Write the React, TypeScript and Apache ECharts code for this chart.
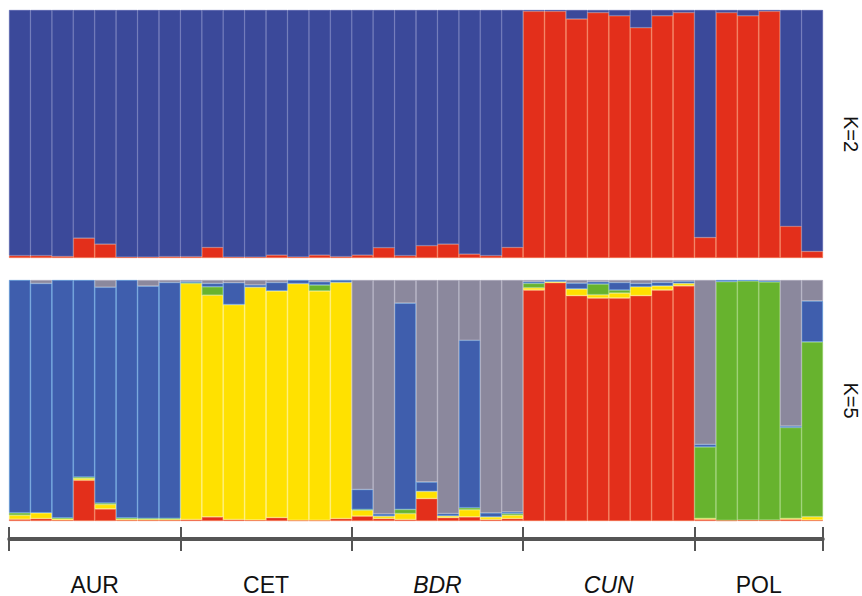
import React, { useEffect, useRef } from "react";
import * as echarts from "echarts";

// Populations and number of individuals per population
const populations = ["AUR", "CET", "BDR", "CUN", "POL"];
const popSizes = [8, 8, 8, 8, 6];
const italicPops = ["BDR", "CUN"];

// K=2: proportion of the red cluster per individual (blue = remainder)
const k2Red = [
  0.01, 0.01, 0.007, 0.08, 0.056, 0.004, 0.004, 0.006,
  0.006, 0.043, 0.004, 0.004, 0.012, 0.005, 0.012, 0.006,
  0.012, 0.042, 0.01, 0.05, 0.056, 0.016, 0.01, 0.043,
  0.995, 0.995, 0.964, 0.99, 0.977, 0.929, 0.977, 0.99,
  0.083, 0.99, 0.977, 0.995, 0.128, 0.027,
];

// K=5 cluster memberships per individual (bottom to top)
const k5Red = [
  0.007, 0.01, 0.004, 0.169, 0.05, 0.004, 0.004, 0.004,
  0.006, 0.017, 0.006, 0.004, 0.014, 0.003, 0.003, 0.01,
  0.02, 0.01, 0.006, 0.093, 0.014, 0.017, 0.006, 0.01,
  0.958, 0.989, 0.935, 0.925, 0.925, 0.935, 0.958, 0.976,
  0.007, 0.003, 0.004, 0.004, 0.007, 0.004,
];
const k5Yellow = [
  0.017, 0.024, 0.005, 0.008, 0.019, 0.004, 0.004, 0.004,
  0.98, 0.92, 0.892, 0.966, 0.941, 0.982, 0.952, 0.98,
  0.025, 0.01, 0.025, 0.03, 0.007, 0.03, 0.011, 0.014,
  0.01, 0.004, 0.028, 0.014, 0.021, 0.037, 0.018, 0.01,
  0.004, 0, 0, 0, 0.004, 0.014,
];
const k5Green = [
  0.01, 0, 0.004, 0.005, 0.005, 0.005, 0.003, 0.003,
  0.003, 0.035, 0, 0, 0, 0, 0.024, 0,
  0.003, 0, 0.017, 0, 0, 0.008, 0, 0.007,
  0.018, 0, 0, 0.044, 0.012, 0, 0, 0,
  0.296, 0.99, 0.992, 0.988, 0.377, 0.725,
];
const k5Blue = [
  0.966, 0.952, 0.987, 0.818, 0.896, 0.987, 0.964, 0.979,
  0.005, 0.014, 0.091, 0.01, 0.035, 0.015, 0.014, 0.01,
  0.083, 0.01, 0.856, 0.039, 0.01, 0.695, 0.017, 0.007,
  0.007, 0.007, 0.024, 0.01, 0.032, 0.014, 0.014, 0.009,
  0.011, 0.007, 0.004, 0.004, 0.006, 0.17,
];
const k5Gray = [
  0, 0.014, 0, 0, 0.03, 0, 0.025, 0.01,
  0.006, 0.014, 0.011, 0.02, 0.01, 0, 0.007, 0,
  0.869, 0.97, 0.096, 0.838, 0.969, 0.25, 0.966, 0.962,
  0.007, 0, 0.013, 0.007, 0.01, 0.014, 0.01, 0.005,
  0.682, 0, 0, 0.004, 0.606, 0.087,
];

const individuals = k2Red.map((_, i) => String(i + 1));
const nInd = individuals.length;

// group boundaries and centres on the population axis
const boundaries: number[] = [0];
popSizes.forEach((s) => boundaries.push(boundaries[boundaries.length - 1] + s));
const centres = popSizes.map((s, i) => boundaries[i] + s / 2);

const FONT = "'Liberation Sans', Arial, sans-serif";

function bar(
  name: string,
  data: number[],
  color: string,
  border: string,
  stack: string,
  idx: number
) {
  return {
    name,
    type: "bar",
    stack,
    xAxisIndex: idx,
    yAxisIndex: idx,
    barWidth: "100%",
    barCategoryGap: "0%",
    data: data.map((v) => (v > 0 ? v : null)),
    itemStyle: { color, borderColor: border, borderWidth: 0.7 },
    emphasis: { disabled: true },
  };
}

export default function App() {
  const ref = useRef<HTMLDivElement>(null);
  useEffect(() => {
    if (!ref.current) return;
    const chart = echarts.init(ref.current, null, { renderer: "svg" });
    const k2Blue = k2Red.map((v) => 1 - v);
    const yBase = (name: string, gridIndex: number) => ({
      type: "value",
      gridIndex,
      min: 0,
      max: 1,
      position: "right",
      axisLine: { show: false },
      axisTick: { show: false },
      axisLabel: { show: false },
      splitLine: { show: false },
      name,
      nameLocation: "middle",
      nameRotate: -90,
      nameGap: 18,
      nameTextStyle: { fontSize: 20, color: "#111", fontFamily: FONT },
    });
    const gridBase = { left: 9, right: 39, outerBoundsMode: "none", containLabel: false };
    chart.setOption({
      animation: false,
      backgroundColor: "#fff",
      grid: [
        { ...gridBase, top: 10, height: 248 },
        { ...gridBase, top: 280, height: 241 },
        { ...gridBase, top: 538, height: 1 },
      ],
      xAxis: [
        { type: "category", gridIndex: 0, data: individuals, show: false },
        { type: "category", gridIndex: 1, data: individuals, show: false },
        {
          type: "value",
          gridIndex: 2,
          min: 0,
          max: nInd,
          position: "bottom",
          axisLine: { show: true, lineStyle: { color: "#555", width: 3 } },
          axisTick: {
            show: true,
            customValues: boundaries,
            length: 12,
            lineStyle: { color: "#555", width: 2 },
          },
          splitLine: { show: false },
          axisLabel: {
            show: true,
            customValues: centres,
            margin: 34,
            fontSize: 23,
            color: "#111",
            fontFamily: FONT,
            formatter: (v: number) => {
              const i = centres.findIndex((c) => Math.abs(c - v) < 1e-6);
              const p = populations[i] ?? "";
              return italicPops.includes(p) ? `{i|${p}}` : p;
            },
            rich: {
              i: { fontStyle: "italic", fontSize: 23, color: "#111", fontFamily: FONT },
            },
          },
        },
        {
          type: "value",
          gridIndex: 2,
          min: 0,
          max: nInd,
          position: "top",
          axisLine: { show: true, lineStyle: { color: "#555", width: 3 } },
          axisTick: {
            show: true,
            customValues: boundaries,
            length: 11,
            lineStyle: { color: "#555", width: 2 },
          },
          splitLine: { show: false },
          axisLabel: { show: false },
        },
      ],
      yAxis: [
        yBase("K=2", 0),
        yBase("K=5", 1),
        { type: "value", gridIndex: 2, show: false },
      ],
      series: [
        bar("K2 red", k2Red, "#E32F1B", "#F2704A", "k2", 0),
        bar("K2 blue", k2Blue, "#3B499A", "#5560AC", "k2", 0),
        bar("K5 red", k5Red, "#E32F1B", "#F2704A", "k5", 1),
        bar("K5 yellow", k5Yellow, "#FFE100", "#FFEE6A", "k5", 1),
        bar("K5 green", k5Green, "#67B32E", "#8FCB62", "k5", 1),
        bar("K5 blue", k5Blue, "#3F5EAD", "#5E9BDA", "k5", 1),
        bar("K5 gray", k5Gray, "#8B889D", "#A9A6BA", "k5", 1),
      ],
    });
    return () => chart.dispose();
  }, []);
  return (
    <div
      ref={ref}
      style={{ position: "absolute", left: 0, top: 0, width: 862, height: 596, background: "#fff" }}
    />
  );
}
